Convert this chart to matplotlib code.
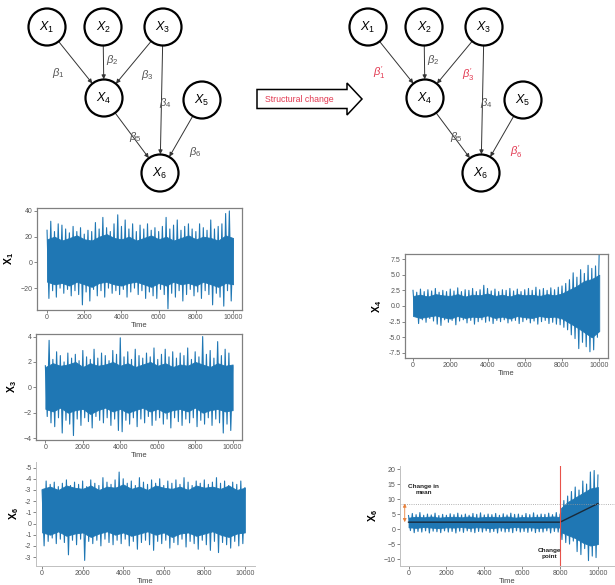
import matplotlib
matplotlib.use("Agg")
import matplotlib.pyplot as plt
import numpy as np
from matplotlib.patches import Circle, FancyArrow

plt.rcParams["font.family"] = ["Liberation Sans", "DejaVu Sans"]
plt.rcParams["mathtext.fontset"] = "custom"
plt.rcParams["mathtext.rm"] = "Liberation Sans"
plt.rcParams["mathtext.it"] = "Liberation Sans:italic"
plt.rcParams["mathtext.bf"] = "Liberation Sans:bold"

# ---- data: envelope peaks (t = 0..10000 step 200) and troughs (t = 100..9900 step 200)
#      plus the dense core of each band (t step 400 unless given)
x1_hi = [25, 32, 24, 30, 29, 26, 23, 28, 24, 27, 22, 25, 24, 31, 26, 35, 27, 24, 30, 37,
         28, 33, 26, 30, 24, 29, 26, 30, 25, 27, 24, 28, 35, 26, 29, 33, 25, 28, 30, 26,
         24, 30, 27, 25, 33, 26, 28, 30, 38, 40, 17]
x1_lo = [-28, -22, -27, -20, -24, -21, -26, -22, -25, -33, -23, -30, -21, -26, -22, -27, -20,
         -24, -22, -25, -21, -27, -23, -20, -25, -22, -28, -23, -26, -28, -21, -25, -36, -24,
         -27, -22, -30, -25, -21, -26, -23, -28, -22, -25, -33, -24, -27, -34, -22, -30]
x1_core_hi = [18, 20, 17, 19, 21, 18, 17, 20, 22, 19, 18, 20, 17, 19, 21, 18, 20, 17, 19,
              21, 18, 20, 19, 17, 21, 19]
x1_core_lo = [-15, -17, -16, -18, -15, -17, -19, -16, -15, -17, -18, -16, -15, -17, -19,
              -16, -18, -15, -17, -16, -18, -15, -17, -19, -16, -17]

x3_hi = [1.7, 3.7, 2.2, 2.8, 2.5, 2.0, 2.7, 2.3, 2.6, 2.1, 2.9, 2.4, 2.2, 3.0, 2.3, 2.7, 2.5,
         2.1, 2.9, 2.6, 3.9, 2.4, 2.8, 2.2, 3.0, 2.5, 2.3, 2.7, 2.4, 3.1, 2.2, 2.6, 3.0, 2.4,
         2.8, 2.3, 2.7, 2.5, 3.1, 2.2, 2.8, 2.4, 4.0, 2.6, 2.9, 2.3, 3.6, 2.5, 3.0, 2.7, 1.6]
x3_lo = [-2.3, -2.8, -3.1, -2.4, -3.6, -2.6, -2.9, -3.8, -2.5, -3.0, -2.4, -2.7, -3.2, -2.3,
         -2.6, -2.8, -2.4, -3.0, -2.5, -3.4, -3.5, -2.6, -2.9, -2.4, -3.1, -2.5, -2.8, -2.3,
         -3.0, -2.6, -2.4, -2.9, -2.5, -3.2, -2.4, -2.7, -3.0, -2.5, -2.8, -2.4, -3.1, -2.6,
         -2.9, -2.4, -3.0, -2.5, -2.8, -3.6, -2.9, -3.4]
x3_core_hi = [1.6, 1.9, 1.7, 1.8, 2.0, 1.6, 1.9, 1.7, 1.8, 2.0, 1.7, 1.9, 1.6, 1.8, 2.0,
              1.7, 1.9, 1.6, 1.8, 1.7, 2.0, 1.8, 1.6, 1.9, 1.7, 1.8]
x3_core_lo = [-1.7, -1.9, -1.6, -2.0, -1.8, -1.7, -2.1, -1.8, -1.6, -1.9, -1.7, -2.0, -1.8,
              -1.6, -1.9, -1.7, -2.0, -1.8, -1.7, -1.9, -1.6, -2.0, -1.8, -1.7, -1.9, -1.8]

x6_hi = [3.0, 3.8, 3.5, 3.7, 3.3, 3.6, 3.9, 3.4, 3.7, 3.5, 3.8, 3.3, 3.9, 3.6, 3.4, 4.1, 3.7,
         3.5, 3.9, 4.6, 4.0, 3.6, 3.8, 3.4, 4.1, 3.7, 3.5, 3.9, 3.6, 4.0, 3.4, 3.8, 3.6, 3.9,
         3.5, 4.1, 3.7, 3.4, 3.8, 3.6, 3.9, 3.5, 3.7, 4.1, 3.6, 3.8, 3.4, 3.7, 3.5, 3.8, 3.2]
x6_lo = [-2.0, -1.6, -1.3, -1.8, -1.4, -1.7, -2.8, -1.5, -1.9, -1.4, -3.3, -1.6, -1.8, -1.5,
         -2.0, -1.4, -1.7, -1.9, -1.5, -1.8, -1.4, -2.0, -1.6, -2.3, -1.7, -1.5, -1.9, -2.4,
         -1.6, -1.8, -1.5, -2.2, -1.7, -1.9, -1.4, -2.1, -1.6, -1.8, -2.3, -1.5, -1.9, -2.4,
         -1.6, -2.6, -1.7, -1.9, -2.2, -1.6, -2.0, -1.8]
x6_core_hi = [3.1, 3.3, 3.0, 3.4, 3.2, 3.1, 3.4, 3.0, 3.3, 3.2, 3.5, 3.1, 3.3, 3.0, 3.4,
              3.2, 3.1, 3.3, 3.0, 3.4, 3.2, 3.3, 3.1, 3.4, 3.0, 3.2]
x6_core_lo = [-0.8, -1.0, -0.7, -1.1, -0.9, -0.8, -1.2, -0.9, -0.7, -1.0, -0.8, -1.1, -0.9,
              -0.7, -1.0, -0.8, -1.2, -0.9, -0.8, -1.1, -0.9, -0.7, -1.0, -1.2, -0.9, -0.8]
x6_tick_vals = [5, 4, 3, 2, 1, 0, -1, -2, -3]
x6_tick_text = ["-5", "-4", "-3", "-2", "-1", "0", "-1", "-2", "-3"]

x4c_hi = [2.5, 2.2, 2.7, 2.3, 2.6, 2.4, 2.8, 2.2, 2.5, 2.3, 2.7, 2.4, 2.9, 2.3, 2.6, 2.5, 2.8,
          2.3, 2.6, 3.3, 2.8, 2.4, 2.7, 2.3, 2.6, 2.5, 2.8, 2.4, 2.7, 2.3, 2.6, 2.8, 2.5, 3.0,
          2.6, 2.8, 2.5, 2.9, 2.6, 3.0, 3.2, 3.6, 4.2, 5.3, 4.6, 5.8, 5.2, 6.5, 6.0, 6.4, 9.0]
x4c_lo = [-1.5, -2.8, -2.2, -2.6, -2.0, -2.4, -2.9, -3.1, -2.2, -2.6, -2.3, -3.0, -2.4, -2.2,
          -2.7, -2.3, -2.9, -2.5, -2.2, -2.6, -2.4, -2.8, -2.3, -2.5, -2.2, -2.7, -2.4, -2.3,
          -2.8, -2.5, -2.2, -2.7, -2.4, -2.9, -2.5, -2.3, -2.8, -2.6, -2.9, -3.0, -3.4, -3.8,
          -4.6, -5.2, -6.8, -5.8, -6.5, -7.3, -7.0, -5.0]
x4c_core_hi = [1.6, 1.8, 1.5, 1.9, 1.7, 1.6, 1.9, 1.5, 1.8, 1.7, 2.0, 1.6, 1.8, 1.5, 1.9,
               1.7, 1.8, 1.6, 1.9, 1.7, 2.0, 2.6, 3.2, 4.0, 4.3, 5.0]
x4c_core_lo = [-1.6, -1.9, -1.7, -1.5, -1.8, -2.0, -1.6, -1.9, -1.7, -1.8, -1.5, -1.9, -1.7,
               -2.0, -1.6, -1.8, -1.9, -1.6, -1.8, -1.7, -2.0, -2.7, -3.4, -4.2, -5.0, -4.0]

x6c_hi = [4.5, 5.2, 4.8, 5.5, 4.6, 5.0, 4.7, 5.3, 4.5, 4.9, 4.6, 5.1, 4.8, 5.3, 4.7, 5.0, 4.6,
          5.2, 4.9, 5.4, 4.7, 5.0, 4.8, 5.2, 4.6, 5.1, 4.7, 5.3, 4.9, 5.0, 4.6, 5.2, 4.8, 5.4,
          4.7, 5.0, 4.9, 5.3, 4.8, 5.5, 5.0, 9.5, 11.0, 12.5, 14.0, 13.0, 16.0, 15.0, 19.0,
          19.5, 18.0]
x6c_lo = [-0.5, -1.2, -0.8, -1.0, -0.6, -1.3, -0.7, -0.9, -1.2, -0.6, -1.0, -0.8, -1.3, -0.7,
          -1.1, -0.6, -0.9, -1.2, -0.8, -1.0, -0.6, -1.1, -0.8, -1.3, -0.7, -1.0, -0.9, -1.2,
          -0.6, -1.0, -0.8, -1.1, -0.7, -1.2, -0.9, -1.0, -0.6, -1.3, -0.8, -1.0, -3.5, -4.5,
          -5.0, -4.0, -7.5, -8.5, -6.5, -10.5, -9.0, -9.5]
x6c_core_t = list(range(0, 8001, 400)) + [8050, 8400, 8800, 9200, 9600, 10000]
x6c_core_hi = [3.8, 4.1, 3.9, 4.2, 3.8, 4.0, 4.1, 3.9, 4.2, 3.8, 4.0, 4.1, 3.9, 4.2, 3.8,
               4.0, 3.9, 4.1, 4.0, 4.2, 4.0, 7.0, 9.0, 10.5, 12.0, 13.5, 14.0]
x6c_core_lo = [0.6, 0.4, 0.7, 0.5, 0.3, 0.6, 0.5, 0.7, 0.4, 0.6, 0.5, 0.3, 0.6, 0.4, 0.7,
               0.5, 0.6, 0.4, 0.5, 0.6, 0.5, -1.0, -2.0, -3.0, -4.5, -5.5, -5.0]
x6c_mean_t = [0, 8000, 10000]
x6c_mean = [2.3, 2.3, 8.5]
change_point = 8000
mean_after = 8.5

# ---- graph
edges = [(1, 4), (2, 4), (3, 4), (3, 6), (4, 6), (5, 6)]
left_nodes = {1: (47, 27), 2: (103, 27), 3: (163, 27), 4: (104, 98), 5: (202, 100), 6: (160, 173)}
left_beta_pos = {1: (58, 73), 2: (112, 60), 3: (147, 75), 4: (165, 103), 5: (135, 137), 6: (195, 152)}
shift = 321
changed = [1, 3, 6]

BLUE = "#1f77b4"
RED = "#e23a52"


def zigzag(hi, lo):
    t_hi = np.arange(len(hi)) * 200
    t_lo = np.arange(len(lo)) * 200 + 100
    t = np.empty(len(hi) + len(lo))
    v = np.empty(len(hi) + len(lo))
    t[0::2], t[1::2] = t_hi, t_lo
    v[0::2], v[1::2] = hi, lo
    return t, v


def series(ax, hi, lo, core_hi, core_lo, core_t=None):
    if core_t is None:
        core_t = np.arange(len(core_hi)) * 400
    ax.fill_between(core_t, core_lo, core_hi, color=BLUE, lw=0.6, edgecolor=BLUE)
    t, v = zigzag(hi, lo)
    ax.plot(t, v, color=BLUE, lw=0.8)


def px_axes(fig, left, top, right, bottom):
    W, H = 615, 585
    return fig.add_axes([left / W, 1 - bottom / H, (right - left) / W, (bottom - top) / H])


def style(ax, label, boxed=True):
    ax.tick_params(labelsize=5, colors="#555555", length=2, width=0.5, pad=1.2)
    for s in ax.spines.values():
        s.set_color("#808080" if boxed else "#c0c0c0")
        s.set_linewidth(0.9 if boxed else 0.7)
    if not boxed:
        ax.spines["top"].set_visible(False)
        ax.spines["right"].set_visible(False)
    ax.set_xlabel("Time", fontsize=5.5, color="#444444", labelpad=0.5)
    ax.set_ylabel(label, fontsize=7.5, labelpad=3)
    ax.set_xticks([0, 2000, 4000, 6000, 8000, 10000])


fig = plt.figure(figsize=(6.15, 5.85), dpi=100)

# diagram layer in pixel coordinates
d = fig.add_axes([0, 0, 1, 1])
d.set_xlim(0, 615)
d.set_ylim(585, 0)
d.axis("off")

for offset, prime in [(0, False), (shift, True)]:
    nodes = {k: (x + offset, y) for k, (x, y) in left_nodes.items()}
    for a, b in edges:
        d.annotate("", xy=nodes[b], xytext=nodes[a],
                   arrowprops=dict(arrowstyle="-|>", color="#333333", lw=0.7,
                                   shrinkA=13.5, shrinkB=13.5, mutation_scale=6))
    for k, (x, y) in nodes.items():
        d.add_patch(Circle((x, y), 18.5, fc="white", ec="black", lw=1.6, zorder=3))
        d.text(x, y, r"$X_{%d}$" % k, fontsize=9, ha="center", va="center", zorder=4)
    for k, (x, y) in left_beta_pos.items():
        if prime and k in changed:
            d.text(x + offset, y, r"$\beta^{\prime}_{%d}$" % k, fontsize=8, color=RED,
                   ha="center", va="center")
        else:
            d.text(x + offset, y, r"$\beta_{%d}$" % k, fontsize=8, color="#555555",
                   ha="center", va="center")

d.add_patch(FancyArrow(257, 99, 105, 0, width=19, head_width=32, head_length=15,
                       length_includes_head=True, fc="white", ec="black", lw=1.1))
d.text(299, 99, "Structural change", fontsize=6.3, color=RED, ha="center", va="center")

# X1
ax1 = px_axes(fig, 37, 208, 242, 310)
series(ax1, x1_hi, x1_lo, x1_core_hi, x1_core_lo)
ax1.set_xlim(-540, 10480)
ax1.set_ylim(-37, 42.3)
ax1.set_yticks([-20, 0, 20, 40])
style(ax1, r"$\mathbf{X}_{\mathbf{1}}$")

# X3
ax2 = px_axes(fig, 36, 334, 242, 440)
series(ax2, x3_hi, x3_lo, x3_core_hi, x3_core_lo)
ax2.set_xlim(-500, 10500)
ax2.set_ylim(-4.15, 4.2)
ax2.set_yticks([-4, -2, 0, 2, 4])
style(ax2, r"$\mathbf{X}_{\mathbf{3}}$")

# X6 (left)
ax3 = px_axes(fig, 36, 462, 255, 566)
series(ax3, x6_hi, x6_lo, x6_core_hi, x6_core_lo)
ax3.set_xlim(-300, 10500)
ax3.set_ylim(-3.8, 5.5)
ax3.set_yticks(x6_tick_vals)
ax3.set_yticklabels(x6_tick_text)
style(ax3, r"$\mathbf{X}_{\mathbf{6}}$", boxed=False)

# X4 (changed)
ax4 = px_axes(fig, 405, 254, 608, 358)
series(ax4, x4c_hi, x4c_lo, x4c_core_hi, x4c_core_lo)
ax4.set_xlim(-430, 10470)
ax4.set_ylim(-8.3, 8.3)
ax4.set_yticks([-7.5, -5, -2.5, 0, 2.5, 5, 7.5])
ax4.set_yticklabels(["-7.5", "-5.0", "-2.5", "0.0", "2.5", "5.0", "7.5"])
style(ax4, r"$\mathbf{X}_{\mathbf{4}}$")

# X6 (changed)
ax5 = px_axes(fig, 400, 466, 615, 566)
series(ax5, x6c_hi, x6c_lo, x6c_core_hi, x6c_core_lo, x6c_core_t)
ax5.plot(x6c_mean_t, x6c_mean, color="#1a2a3a", lw=1.0)
ax5.axvline(change_point, color="#e8534a", lw=0.8)
ax5.axhline(mean_after, color="#999999", lw=0.6, ls=":")
ax5.annotate("", xy=(-200, mean_after), xytext=(-200, x6c_mean[0]),
             arrowprops=dict(arrowstyle="<|-|>", color="#e8803a", lw=0.6,
                             mutation_scale=5, shrinkA=0, shrinkB=0))
ax5.text(800, 13.2, "Change in\nmean", fontsize=4.6, fontweight="bold", ha="center",
         va="center", color="#222222")
ax5.text(7450, -8.2, "Change\npoint", fontsize=4.6, fontweight="bold", ha="center",
         va="center", color="#222222")
ax5.set_xlim(-450, 10900)
ax5.set_ylim(-12.3, 21)
ax5.set_yticks([-10, -5, 0, 5, 10, 15, 20])
style(ax5, r"$\mathbf{X}_{\mathbf{6}}$", boxed=False)

fig.savefig("out.png", dpi=100)
